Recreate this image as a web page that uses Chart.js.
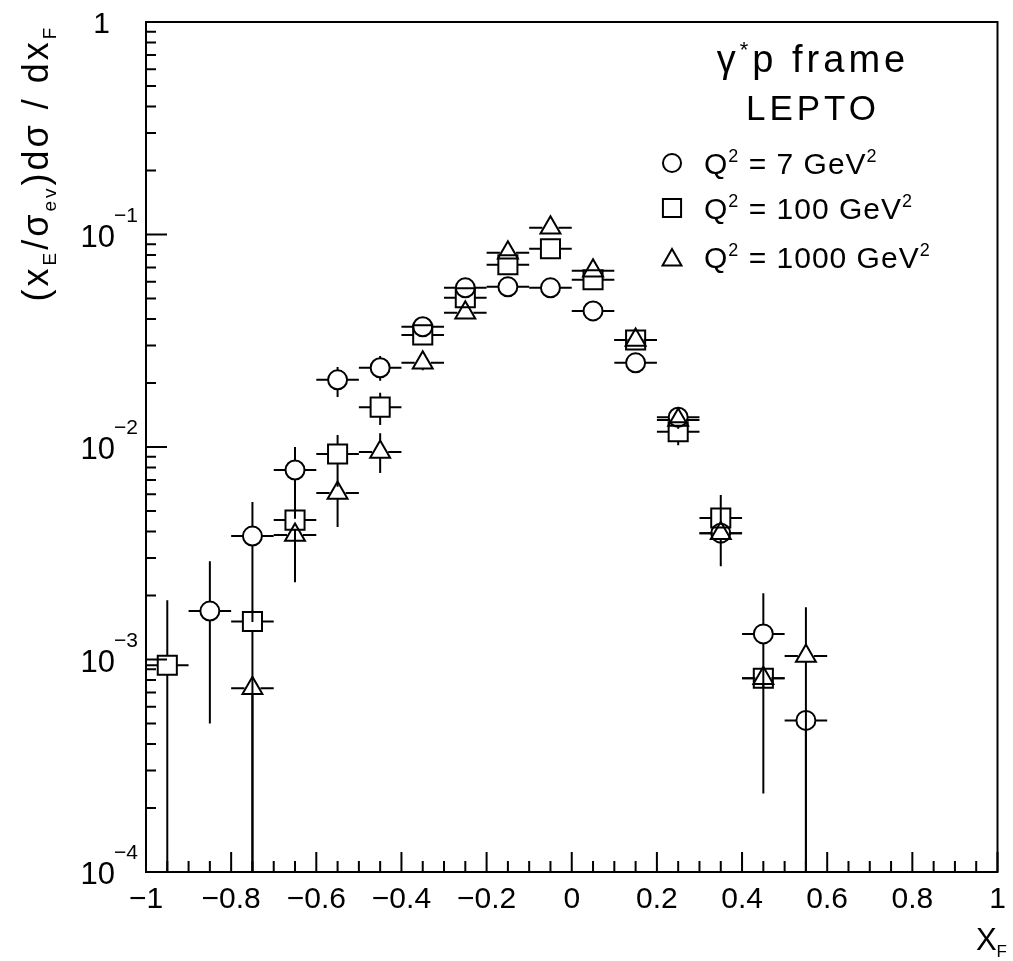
<!DOCTYPE html>
<html>
<head>
<meta charset="utf-8">
<script src="https://cdn.jsdelivr.net/npm/chart.js@4.4.0/dist/chart.umd.min.js"></script>
<style>
  html, body { margin: 0; padding: 0; background: #fff; }
</style>
</head>
<body>
<canvas id="chart" width="1013" height="961"></canvas>
<script>
// x_F bin centres (bin width 0.1)
const binCentres = [-0.95, -0.85, -0.75, -0.65, -0.55, -0.45, -0.35, -0.25, -0.15, -0.05, 0.05, 0.15, 0.25, 0.35, 0.45, 0.55];
const binHalfWidth = 0.05;

// Q2 = 7 GeV2 (circles)
const q7 = [null, 1.69e-3, 3.81e-3, 7.79e-3, 0.0207, 0.0236, 0.0368, 0.0561, 0.0567, 0.0561, 0.0437, 0.0249, 0.0138, 3.93e-3, 1.32e-3, 5.17e-4];
const q7Lo = [null, 5.0e-4, 1.5e-3, 4.6e-3, 0.0172, 0.0205, 0.034, 0.053, 0.054, 0.053, 0.041, 0.023, 0.0125, 3.6e-3, 2.34e-4, 1e-5];
const q7Hi = [null, 2.9e-3, 5.51e-3, 0.0100, 0.0238, 0.0268, 0.039, 0.059, 0.059, 0.059, 0.046, 0.026, 0.0152, 4.3e-3, 2.05e-3, 5.6e-4];

// Q2 = 100 GeV2 (squares)
const q100 = [9.4e-4, null, 1.51e-3, 4.53e-3, 9.27e-3, 0.0154, 0.0337, 0.0504, 0.0720, 0.0857, 0.0612, 0.0319, 0.0118, 4.63e-3, 8.16e-4, null];
const q100Lo = [1e-5, null, 1e-5, 2.6e-3, 6.5e-3, 0.0127, 0.031, 0.047, 0.068, 0.081, 0.058, 0.030, 0.0102, 4.2e-3, 7.5e-4, null];
const q100Hi = [1.9e-3, null, 1.7e-3, 5.0e-3, 0.0114, 0.0180, 0.036, 0.053, 0.076, 0.090, 0.065, 0.034, 0.0128, 5.1e-3, 9.0e-4, null];

// Q2 = 1000 GeV2 (triangles)
const q1000 = [null, null, 7.33e-4, 3.85e-3, 6.07e-3, 9.48e-3, 0.0249, 0.0428, 0.0820, 0.1076, 0.0675, 0.0319, 0.0134, 3.93e-3, 8.16e-4, 1.04e-3];
const q1000Lo = [null, null, 1e-5, 2.31e-3, 4.2e-3, 7.55e-3, 0.023, 0.040, 0.077, 0.101, 0.064, 0.030, 0.0122, 2.75e-3, 7.4e-4, 1e-5];
const q1000Hi = [null, null, 8.0e-4, 4.3e-3, 6.6e-3, 0.0116, 0.027, 0.046, 0.087, 0.114, 0.071, 0.034, 0.0146, 5.94e-3, 9.0e-4, 1.76e-3];

// axis labels
const xTickValues = [-1, -0.8, -0.6, -0.4, -0.2, 0, 0.2, 0.4, 0.6, 0.8, 1];
const xTickLabels = ['\u22121', '\u22120.8', '\u22120.6', '\u22120.4', '\u22120.2', '0', '0.2', '0.4', '0.6', '0.8', '1'];
const yDecades = [1, 1e-1, 1e-2, 1e-3, 1e-4];
const yExponents = ['', '\u22121', '\u22122', '\u22123', '\u22124'];

const FONT = '"Liberation Sans", Arial, sans-serif';

function points(ys, lo, hi) {
  const out = [];
  binCentres.forEach((x, i) => {
    if (ys[i] !== null) out.push({x: x, y: ys[i], lo: lo[i], hi: hi[i]});
  });
  return out;
}

function makeSet(label, ys, lo, hi, style, radius, gap) {
  return {
    label: label,
    data: points(ys, lo, hi),
    pointStyle: style,
    pointRadius: radius,
    pointHoverRadius: radius,
    pointBorderWidth: 2,
    borderColor: '#000',
    backgroundColor: 'rgba(0,0,0,0)',
    showLine: false,
    gap: gap
  };
}

// draw a list of text pieces [text, size, dy] one after another
function textRun(ctx, parts, x, y, align, spacing) {
  ctx.letterSpacing = (spacing || 0) + 'px';
  let w = 0;
  parts.forEach(p => { ctx.font = p[1] + 'px ' + FONT; w += ctx.measureText(p[0]).width; });
  let cx = align === 'center' ? x - w / 2 : align === 'right' ? x - w : x;
  ctx.textAlign = 'left';
  ctx.textBaseline = 'alphabetic';
  parts.forEach(p => {
    ctx.font = p[1] + 'px ' + FONT;
    ctx.fillText(p[0], cx, y + (p[2] || 0));
    cx += ctx.measureText(p[0]).width;
  });
  ctx.letterSpacing = '0px';
}

const errorBars = {
  id: 'errorBars',
  beforeDatasetsDraw(chart) {
    const {ctx, chartArea, scales: {x, y}} = chart;
    ctx.save();
    ctx.beginPath();
    ctx.rect(chartArea.left, chartArea.top, chartArea.right - chartArea.left, chartArea.bottom - chartArea.top);
    ctx.clip();
    ctx.strokeStyle = '#000';
    ctx.lineWidth = 2;
    chart.data.datasets.forEach(ds => {
      const g = ds.gap;
      ds.data.forEach(p => {
        const px = x.getPixelForValue(p.x);
        const py = y.getPixelForValue(p.y);
        const x0 = x.getPixelForValue(p.x - binHalfWidth);
        const x1 = x.getPixelForValue(p.x + binHalfWidth);
        const yHi = y.getPixelForValue(p.hi);
        const yLo = y.getPixelForValue(p.lo);
        ctx.beginPath();
        ctx.moveTo(x0, py); ctx.lineTo(px - g.h, py);
        ctx.moveTo(px + g.h, py); ctx.lineTo(x1, py);
        if (yHi < py - g.top) { ctx.moveTo(px, py - g.top); ctx.lineTo(px, yHi); }
        if (yLo > py + g.bottom) { ctx.moveTo(px, py + g.bottom); ctx.lineTo(px, yLo); }
        ctx.stroke();
      });
    });
    ctx.restore();
  },
  afterDraw(chart) {
    const {ctx, chartArea: a, scales: {x, y}} = chart;
    ctx.save();
    ctx.strokeStyle = '#000';
    ctx.fillStyle = '#000';
    ctx.lineWidth = 2;
    ctx.strokeRect(a.left, a.top, a.right - a.left, a.bottom - a.top);

    // inward ticks
    ctx.beginPath();
    for (let i = 0; i <= 40; i++) {
      const v = -1 + i * 0.05;
      const px = x.getPixelForValue(v);
      const len = i % 4 === 0 ? 20 : 11;
      ctx.moveTo(px, a.bottom); ctx.lineTo(px, a.bottom - len);
    }
    for (let d = -4; d < 0; d++) {
      for (let m = 1; m <= 9; m++) {
        const py = y.getPixelForValue(m * Math.pow(10, d));
        const len = m === 1 ? 21 : 10;
        ctx.moveTo(a.left, py); ctx.lineTo(a.left + len, py);
      }
    }
    ctx.stroke();

    // x tick labels
    ctx.font = '30px ' + FONT;
    ctx.textAlign = 'center';
    ctx.textBaseline = 'alphabetic';
    xTickValues.forEach((v, i) => {
      ctx.fillText(xTickLabels[i], x.getPixelForValue(v), a.bottom + 36);
    });

    // y tick labels
    yDecades.forEach((v, i) => {
      const py = y.getPixelForValue(v);
      if (yExponents[i] === '') {
        textRun(ctx, [['1', 30, 0]], a.left - 36, py + 11, 'right');
      } else {
        textRun(ctx, [['10', 31, 0]], a.left - 31, py + 12, 'right');
        textRun(ctx, [[yExponents[i], 21, 0]], a.left - 32, py - 13, 'left');
      }
    });

    // axis titles
    textRun(ctx, [['X', 31, 0], ['F', 17, 7]], 1007, 950, 'right');
    ctx.save();
    ctx.translate(48, 163);
    ctx.rotate(-Math.PI / 2);
    textRun(ctx, [['(x', 36, 0], ['E', 19, 8], ['/\u03c3', 36, 0], ['ev', 19, 8], [')d\u03c3 / dx', 36, 0], ['F', 19, 8]], 0, 0, 'center', 3);
    ctx.restore();

    // legend block
    textRun(ctx, [['\u03b3', 38, 0], ['*', 22, -15], ['p frame', 38, 0]], 813, 72, 'center', 4);
    textRun(ctx, [['LEPTO', 35, 0]], 813, 120, 'center', 4);
    const rows = [
      {y: 163, label: '7'},
      {y: 208, label: '100'},
      {y: 257, label: '1000'}
    ];
    chart.data.datasets.forEach((ds, i) => {
      const r = rows[i];
      ctx.save();
      ctx.fillStyle = 'rgba(0,0,0,0)';
      ctx.lineWidth = 2;
      Chart.helpers.drawPoint(ctx, {pointStyle: ds.pointStyle, radius: ds.pointRadius * 0.95, borderWidth: 2}, 672, r.y + (ds.pointStyle === 'triangle' ? 3 : 0));
      ctx.restore();
      textRun(ctx, [['Q', 30, 0], ['2', 18, -12], [' = ' + r.label + ' GeV', 30, 0], ['2', 18, -12]], 704, r.y + 11, 'left', 1);
    });
    ctx.restore();
  }
};

const ctx = document.getElementById('chart').getContext('2d');
new Chart(ctx, {
  type: 'scatter',
  data: {
    datasets: [
      makeSet('Q\u00b2 = 7 GeV\u00b2', q7, q7Lo, q7Hi, 'circle', 9.5, {h: 9.5, top: 9.5, bottom: 9.5}),
      makeSet('Q\u00b2 = 100 GeV\u00b2', q100, q100Lo, q100Hi, 'rect', 13.5, {h: 9.5, top: 9.5, bottom: 9.5}),
      makeSet('Q\u00b2 = 1000 GeV\u00b2', q1000, q1000Lo, q1000Hi, 'triangle', 11.5, {h: 8, top: 11.5, bottom: 6})
    ]
  },
  options: {
    responsive: false,
    animation: false,
    events: [],
    layout: {padding: {top: 22, right: 7, left: 0, bottom: 0}},
    plugins: {legend: {display: false}, tooltip: {enabled: false}},
    scales: {
      x: {
        type: 'linear', min: -1, max: 1,
        grid: {display: false}, border: {display: false},
        ticks: {display: false},
        afterFit: s => { s.height = 89; }
      },
      y: {
        type: 'logarithmic', min: 1e-4, max: 1,
        grid: {display: false}, border: {display: false},
        ticks: {display: false},
        afterFit: s => { s.width = 146; }
      }
    }
  },
  plugins: [errorBars]
});
</script>
</body>
</html>
